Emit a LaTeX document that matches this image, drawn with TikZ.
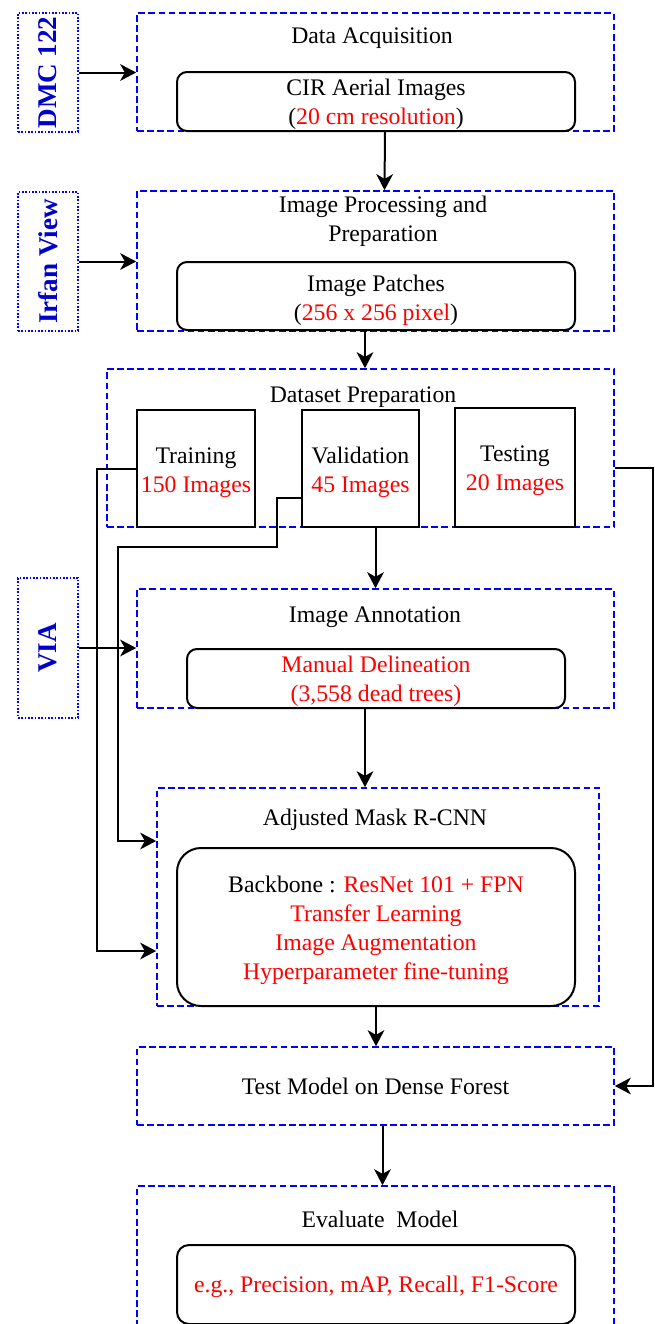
\documentclass[tikz,border=0pt]{standalone}
\usepackage{fontspec}
\setmainfont{Liberation Serif}
\usetikzlibrary{arrows.meta,calc,positioning}
\def\red(#1){\textcolor{red}{#1}}
\definecolor{toolblue}{rgb}{0.0, 0.0, 0.8}
\tikzstyle{stage} = [draw=blue, line width=1.2pt, dash pattern=on 5pt off 2.6pt, minimum width=357.75pt, inner sep=0pt]
\tikzstyle{inner} = [draw, line width=1.5pt, rounded corners=7.5pt, minimum width=298.5pt, inner sep=0pt]
\tikzstyle{split} = [draw, line width=1.5pt, inner sep=0pt]
\tikzstyle{txt} = [align=center, inner sep=0pt]
\tikzstyle{tool} = [draw=blue, line width=1.3pt, dash pattern=on 1.3pt off 1.2pt, minimum width=45pt, inner sep=0pt, text=toolblue, font=\fontsize{20.3pt}{24pt}\selectfont\bfseries]
\tikzstyle{arrow} = [line width=1.5pt, -{Stealth[length=12pt,width=12.5pt,inset=3.5pt]}]

\begin{document}
\begin{tikzpicture}[x=0.75pt, y=-0.75pt, every node/.style={font=\fontsize{17.8pt}{21.75pt}\selectfont}]
\useasboundingbox (0,0) rectangle (654,1324);
\clip (0,0) rectangle (654,1324);
% software used at each step
\node (dmc) [tool, minimum height=89.25pt] at (48,72.5) {\rotatebox{90}{DMC 122}};
\node (irfan) [tool, minimum height=104.25pt] at (48,261.5) {\rotatebox{90}{Irfan View}};
\node (via) [tool, minimum height=105pt] at (48,648) {\rotatebox{90}{VIA}};
% data acquisition
\node (acq) [stage, minimum height=88.5pt] at (375.5,72) {};
\node (acqtitle) at (372,38) {Data Acquisition};
\node (cir) [inner, minimum height=44.25pt] at (376,101.5) {};
\node (cirtext) [txt] at (376,104.5) {CIR Aerial Images\\(\red(20 cm resolution))};
% processing
\node (proc) [stage, minimum height=105pt] at (375.5,261) {};
\node (proctitle) [align=center] at (383,221.5) {Image Processing and\\Preparation};
\node (patch) [inner, minimum height=51pt] at (376,296) {};
\node (patchtext) [txt] at (376,300) {Image Patches\\(\red(256 x 256 pixel))};
% dataset split
\node (dset) [stage, minimum width=380.25pt, minimum height=118.5pt] at (360.5,448) {};
\node (dsettitle) at (363,397) {Dataset Preparation};
\node (train) [split, minimum width=88.5pt, minimum height=87.75pt] at (196,468.5) {};
\node (traintext) [txt] at (196,472.5) {Training\\\red(150 Images)};
\node (valid) [split, minimum width=87.75pt, minimum height=87.75pt] at (360.5,468.5) {};
\node (validtext) [txt] at (360.5,472.5) {Validation\\\red(45 Images)};
\node (test) [split, minimum width=90pt, minimum height=89.25pt] at (515,467.5) {};
\node (testtext) [txt] at (515,470.5) {Testing\\\red(20 Images)};
% annotation
\node (annot) [stage, minimum height=89.25pt] at (375.5,648.5) {};
\node (annottitle) at (375,617) {Image Annotation};
\node (manual) [inner, minimum width=283.5pt, minimum height=44.25pt] at (376,678.5) {};
\node (manualtext) [txt] at (376,681.5) {\red(Manual Delineation)\\\red({(3,558 dead trees)})};
% model
\node (mask) [stage, minimum width=331.5pt, minimum height=163.5pt] at (378,897) {};
\node (masktitle) at (375,820) {Adjusted Mask R-CNN};
\node (backbone) [inner, rounded corners=18pt, minimum height=118.5pt] at (376,927) {};
\node (backbonetext) [txt] at (376,930.5) {Backbone : \red(ResNet 101 + FPN)\\\red(Transfer Learning)\\\red(Image Augmentation)\\\red(Hyperparameter fine-tuning)};
% testing and evaluation
\node (testmodel) [stage, minimum height=58.5pt] at (375.5,1086) {Test Model on Dense Forest};
\node (eval) [stage, minimum height=111pt] at (375.5,1260) {};
\node (evaltitle) at (380,1219) {Evaluate \ Model};
\node (metric) [inner, rounded corners=9pt, minimum height=59.25pt] at (376,1284.5) {};
\node (metrictext) [txt] at (376,1286.5) {\red(e.g., Precision, mAP, Recall, F1-Score)};

\coordinate (trainhook) at (97,951);
\coordinate (validbend) at (277,547);
\coordinate (validhook) at (118,841);
\coordinate (testhook) at (653,1086);

\draw[arrow] (dmc) -- (acq.west |- dmc);
\draw[arrow] (irfan) -- (proc.west |- irfan);
\draw[arrow] (via) -- (annot.west |- via);
\draw[arrow] ([xshift=6.75pt]cir.south) -- ([xshift=6.75pt]proc.north);
\draw[arrow] ([xshift=-8.25pt]patch.south) -- ([xshift=-8.25pt]patch.south |- dset.north);
\draw[arrow] (valid.south -| annot.north) -- (annot.north);
\draw[arrow] ([xshift=-8.25pt]manual.south) -- ([xshift=-8.25pt]manual.south |- mask.north);
\draw[arrow] (backbone.south) -- (backbone.south |- testmodel.north);
\draw[arrow] ([xshift=5.25pt]testmodel.south) -- ([xshift=5.25pt]testmodel.south |- eval.north);
% training and validation feed the model
\draw[arrow] (train.west) -| (trainhook) -- (trainhook -| mask.west);
\draw[arrow] ([yshift=-22pt]valid.west) -| (validbend) -| (validhook) -- (validhook -| mask.west);
% test split goes to the final test
\draw[arrow] (test.east -| dset.east) -| (testhook) -- (testmodel.east);
\end{tikzpicture}
\end{document}
